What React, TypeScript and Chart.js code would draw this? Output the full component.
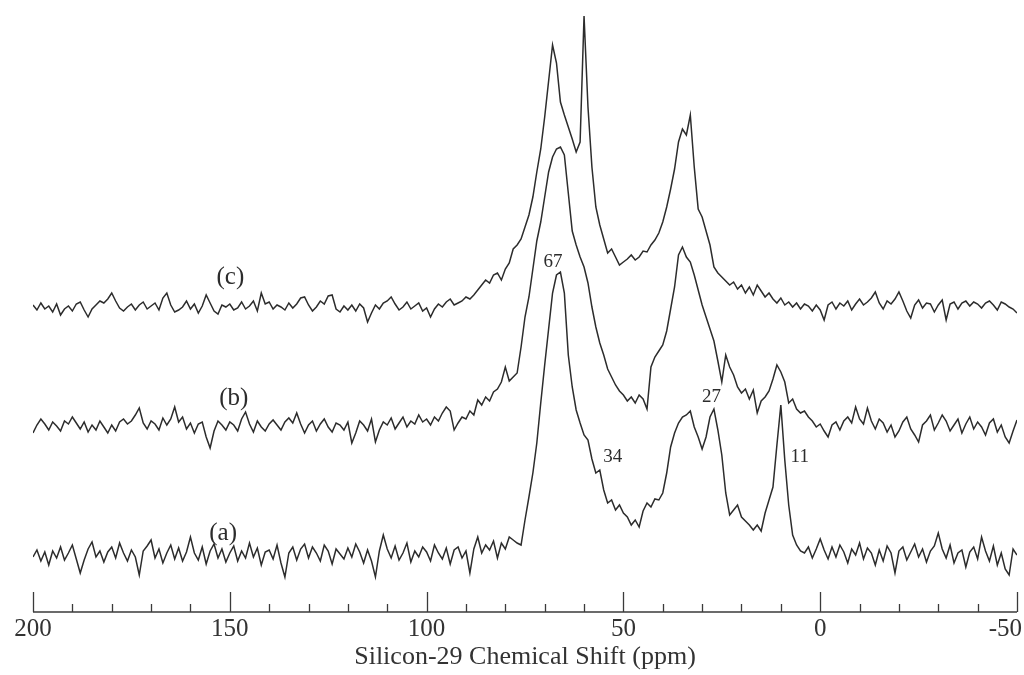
import React, { useEffect, useRef } from "react";
import { Chart, registerables } from "chart.js";

Chart.register(...registerables);

// Chemical shift grid (ppm), 1 ppm spacing from 200 down to -50
const PPM_START = 200;
const PPM_COUNT = 251;
const PPM = Array.from({ length: PPM_COUNT }, (_, i) => PPM_START - i);

// Intensities (arbitrary units), ppm 200 -> -50
const TRACE_A = [
  -2, 5, -6, 3, -10, 4, -3, 8, -5, 2,
  10, -4, -18, -5, 6, 13, -2, 4, -7, 3,
  8, -3, 12, 2, -6, 5, -2, -20, 4, 9,
  15, -3, 6, -8, 2, 10, -4, 7, -6, 3,
  18, 2, -5, 8, -9, 4, 11, -3, 6, -7,
  2, 9, -6, 4, -3, 12, -2, 7, -10, 3,
  5, -4, 10, -8, -22, 2, 8, -5, 6, 11,
  -3, 8, 2, -6, 10, 4, -9, 6, 1, -4,
  7, -2, 11, 3, -8, 5, -6, -22, 4, 20,
  6, -3, 9, -5, 2, 12, -7, 4, -2, 8,
  3, -6, 10, 2, -4, 7, -9, 5, 8, -3,
  4, -18, 6, 18, 2, 10, 5, 14, -3, 12,
  6, 18, 15, 12, 10, 35, 58, 82, 112, 152,
  190, 226, 262, 280, 283, 262, 200, 168, 145, 132,
  120, 115, 96, 82, 85, 65, 52, 55, 45, 50,
  42, 38, 30, 35, 28, 44, 52, 48, 56, 55,
  62, 82, 108, 122, 132, 138, 140, 144, 128, 118,
  106, 118, 138, 146, 125, 100, 62, 40, 45, 50,
  38, 34, 30, 25, 30, 24, 42, 55, 68, 110,
  150, 95, 50, 20, 10, 4, 2, 8, -3, 6,
  16, 5, -4, 8, -2, 10, 3, -8, 6, 0,
  12, -4, 7, 2, -10, 5, -6, 9, 2, -18,
  4, 8, -5, 3, 11, -2, 6, -7, 4, 9,
  22, 6, -3, 10, -8, 2, 5, -12, 3, 8,
  -4, 18, 4, -6, 9, -10, 2, -14, -20, 6,
  0,
];

const TRACE_B = [
  -6, 2, 8, 3, -3, 5, 1, -4, 6, 3,
  10, 4, -2, 5, -5, 2, -3, 6, 0, -6,
  2, -4, 5, 8, 3, 6, 12, 19, 4, -2,
  6, 3, -3, 9, 2, 8, 20, 5, 10, -2,
  4, -6, 3, 5, -10, -21, -4, 6, 2, -3,
  5, 2, -4, 8, 15, 3, -5, 6, 0, -4,
  3, 7, 2, -3, 5, 9, 4, 14, 3, -6,
  2, 6, -4, 3, 8, 0, -5, 4, 2, -3,
  5, -16, -6, 6, 2, -4, 8, -15, -3, 5,
  2, 9, -2, 4, 10, 0, 6, 3, 12, 5,
  8, 2, 10, 6, 14, 20, 16, -3, 4, 10,
  8, 16, 12, 27, 22, 30, 26, 35, 38, 45,
  60, 46, 50, 54, 80, 110, 130, 158, 186, 205,
  230, 255, 270, 278, 280, 272, 234, 196, 182, 170,
  160, 144, 120, 100, 84, 72, 58, 50, 42, 36,
  32, 26, 30, 24, 32, 28, 18, 60, 70, 76,
  82, 96, 118, 140, 172, 180, 170, 165, 152, 137,
  122, 110, 98, 86, 66, 45, 72, 60, 52, 40,
  34, 38, 28, 37, 14, 26, 30, 36, 48, 62,
  55, 45, 24, 28, 18, 14, 16, 10, 6, 0,
  3, -4, -10, 2, 5, -3, 6, 10, 4, 20,
  8, 3, 19, 6, -2, 8, 4, -5, 2, -10,
  -4, 5, 10, -2, -8, -15, 2, 6, 12, -3,
  4, 12, 6, -4, 2, 8, -6, 3, 10, -2,
  5, 0, -8, 4, 8, -5, 2, -10, -16, -4,
  7,
];

const TRACE_C = [
  2, -3, 4, -2, 1, -5, 3, -8, -2, 1,
  -4, 3, 5, -3, -10, -2, 2, 6, 4, 8,
  14, 6, -1, -4, 0, 3, -3, 2, 5, -2,
  1, 4, -3, 9, 14, 2, -5, -3, 0, 6,
  -2, 3, -6, 1, 12, 4, -4, -7, 2, 0,
  3, -3, -1, 5, -2, 1, 6, -4, 14, 3,
  5, -2, 2, 0, -3, 4, -1, 3, 9, 10,
  2, -4, 0, 6, 3, 11, 12, -2, -5, 1,
  -3, 2, -4, 3, -1, -15, -6, 2, -2, 4,
  6, 10, 3, -3, 0, 5, -2, 1, 4, -4,
  -1, -10, -2, 3, 0, 5, 8, 2, 4, 6,
  10, 8, 12, 17, 22, 27, 24, 32, 34, 27,
  38, 44, 58, 62, 68, 80, 92, 110, 135, 158,
  190, 226, 262, 244, 205, 192, 180, 168, 155, 165,
  291, 200, 140, 100, 82, 68, 54, 58, 50, 42,
  45, 48, 52, 47, 50, 56, 55, 62, 67, 74,
  85, 100, 118, 138, 165, 178, 172, 192, 140, 98,
  90, 76, 62, 40, 34, 30, 26, 22, 25, 18,
  22, 14, 20, 12, 22, 16, 10, 14, 8, 4,
  9, 2, 5, 0, 4, -2, 3, 1, -4, 2,
  -3, -13, 2, 5, -2, 4, 1, 6, -3, 3,
  8, 2, 5, 9, 15, 4, -2, 6, 3, 8,
  15, 6, -4, -11, 2, 7, -1, 4, 3, -5,
  2, 7, -13, 3, 5, -2, 4, 6, 1, 5,
  3, -1, 4, 6, 2, -3, 5, 3, 0, -2,
  -6,
];

// Vertical stacking offsets of the three spectra
const OFFSET_A = 57;
const OFFSET_B = 185;
const OFFSET_C = 305;

// Trace labels (position in data coordinates)
const TRACE_LABELS = ["(a)", "(b)", "(c)"];
const TRACE_LABEL_PPM = [151.7, 149.0, 149.85];
const TRACE_LABEL_Y = [79, 214, 335];

// Peak labels
const PEAK_LABELS = ["67", "34", "27", "11"];
const PEAK_LABEL_PPM = [67.9, 52.7, 27.6, 5.2];
const PEAK_LABEL_Y = [350, 155, 215, 155];

const X_MIN = -50;
const X_MAX = 200;
const X_TICKS = [200, 150, 100, 50, 0, -50];
const MINOR_STEP = 10;
const MAJOR_STEP = 50;
const AXIS_TITLE = "Silicon-29 Chemical Shift (ppm)";

const INK = "#2c2c2c";
const FONT = '"Liberation Serif", "DejaVu Serif", serif';

const toPoints = (vals: number[], off: number) =>
  vals.map((v, i) => ({ x: PPM[i], y: v + off }));

const decorPlugin = {
  id: "decor",
  afterDraw(chart: any) {
    const { ctx, chartArea, scales, width } = chart;
    const x = scales.x;
    const y = scales.y;
    ctx.save();
    // axis line
    ctx.strokeStyle = "#3a3a3a";
    ctx.lineWidth = 1.6;
    ctx.beginPath();
    ctx.moveTo(x.getPixelForValue(X_MAX), chartArea.bottom);
    ctx.lineTo(x.getPixelForValue(X_MIN), chartArea.bottom);
    ctx.stroke();
    // tick marks pointing up
    ctx.lineWidth = 1.3;
    for (let v = X_MIN; v <= X_MAX; v += MINOR_STEP) {
      const px = Math.round(x.getPixelForValue(v)) + 0.5;
      const len = v % MAJOR_STEP === 0 ? 20 : 8;
      ctx.beginPath();
      ctx.moveTo(px, chartArea.bottom);
      ctx.lineTo(px, chartArea.bottom - len);
      ctx.stroke();
    }
    // tick labels (kept inside the canvas)
    ctx.fillStyle = "#333";
    ctx.textAlign = "center";
    ctx.textBaseline = "alphabetic";
    ctx.font = `25px ${FONT}`;
    X_TICKS.forEach((v) => {
      const t = String(v);
      const w = ctx.measureText(t).width;
      let px = x.getPixelForValue(v);
      px = Math.min(px, width - w / 2 - 2);
      px = Math.max(px, w / 2 + 2);
      ctx.fillText(t, px, chartArea.bottom + 24);
    });
    // trace and peak labels
    ctx.fillStyle = INK;
    ctx.textBaseline = "middle";
    ctx.font = `25px ${FONT}`;
    TRACE_LABELS.forEach((t, i) => {
      ctx.fillText(t, x.getPixelForValue(TRACE_LABEL_PPM[i]), y.getPixelForValue(TRACE_LABEL_Y[i]));
    });
    ctx.font = `19px ${FONT}`;
    PEAK_LABELS.forEach((t, i) => {
      ctx.fillText(t, x.getPixelForValue(PEAK_LABEL_PPM[i]), y.getPixelForValue(PEAK_LABEL_Y[i]));
    });
    ctx.restore();
  },
};

export default function App() {
  const ref = useRef<HTMLCanvasElement | null>(null);

  useEffect(() => {
    if (!ref.current) return;
    const ds = (vals: number[], off: number) => ({
      data: toPoints(vals, off),
      borderColor: INK,
      borderWidth: 1.5,
      pointRadius: 0,
      tension: 0,
      fill: false,
    });
    const chart = new Chart(ref.current, {
      type: "line",
      data: {
        datasets: [ds(TRACE_A, OFFSET_A), ds(TRACE_B, OFFSET_B), ds(TRACE_C, OFFSET_C)],
      },
      options: {
        animation: false,
        responsive: false,
        devicePixelRatio: 1,
        layout: { padding: { left: 33, right: 7, top: 0, bottom: 0 } },
        plugins: { legend: { display: false }, tooltip: { enabled: false } },
        scales: {
          x: {
            type: "linear",
            min: X_MIN,
            max: X_MAX,
            reverse: true,
            grid: { display: false },
            border: { display: false },
            afterBuildTicks: (s: any) => {
              s.ticks = X_TICKS.map((v) => ({ value: v }));
            },
            afterFit: (s: any) => {
              s.height = 63;
            },
            ticks: { display: false },
            title: {
              display: true,
              text: AXIS_TITLE,
              color: "#333",
              font: { family: FONT, size: 26 },
              padding: { top: 0, bottom: 2 },
            },
          },
          y: { display: false, min: 0, max: 612 },
        },
      },
      plugins: [decorPlugin],
    } as any);
    return () => chart.destroy();
  }, []);

  return (
    <div
      style={{
        position: "fixed",
        left: 0,
        top: 0,
        width: 1024,
        height: 675,
        overflow: "hidden",
        background: "#fff",
      }}
    >
      <canvas ref={ref} width={1024} height={675} style={{ display: "block", width: 1024, height: 675 }} />
    </div>
  );
}
